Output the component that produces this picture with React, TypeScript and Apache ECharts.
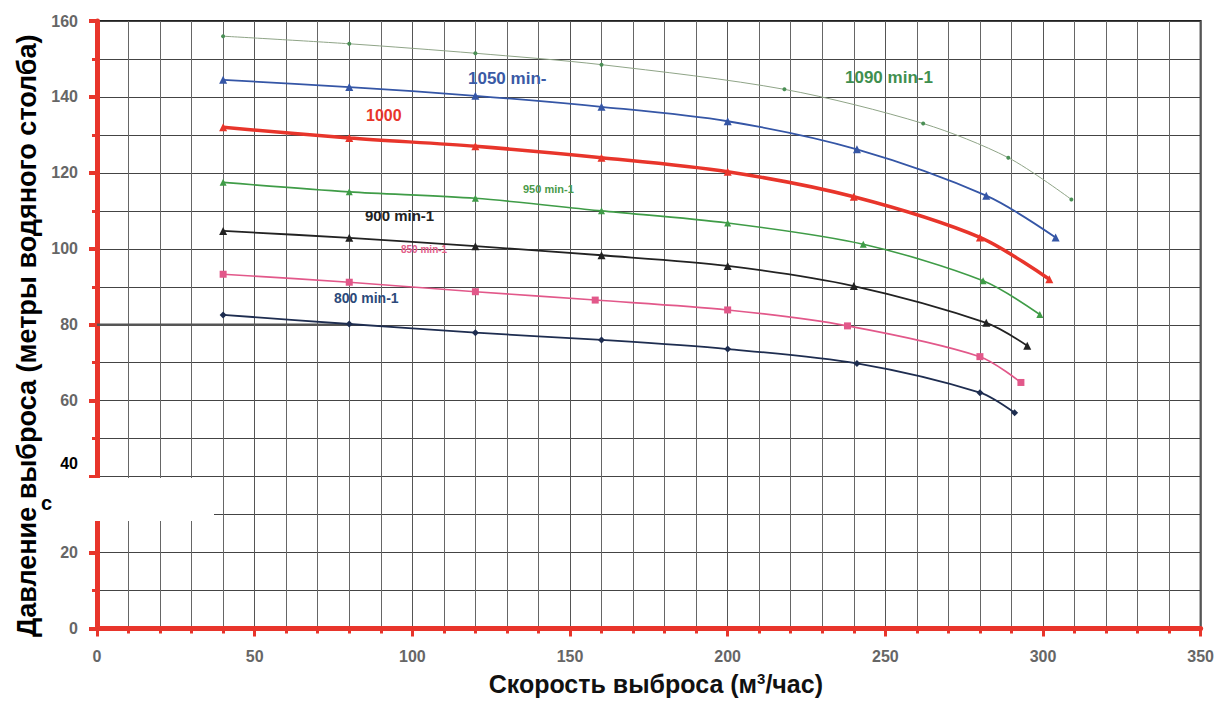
import React, { useEffect, useRef } from "react";
import * as echarts from "echarts";

// Flow (m³/h) vs head (m) curves per pump speed
const curve1090: number[][] = [[40, 156], [80, 154], [120, 151.5], [160, 148.5], [218, 142], [262, 133], [289, 124], [309, 113]];
const curve1050: number[][] = [[40, 144.5], [80, 142.6], [120, 140.3], [160, 137.4], [200, 133.6], [241, 126.2], [282, 114], [304, 103]];
const curve1000: number[][] = [[40, 132], [80, 129.2], [120, 127], [160, 124], [200, 120.3], [240, 113.7], [280, 103], [302, 92]];
const curve950: number[][] = [[40, 117.5], [80, 115], [120, 113.3], [160, 110], [200, 106.8], [243, 101.2], [281, 91.6], [299, 82.7]];
const curve900: number[][] = [[40, 104.7], [80, 102.9], [120, 100.7], [160, 98.3], [200, 95.5], [240, 90.2], [282, 80.5], [295, 74.5]];
const curve850: number[][] = [[40, 93.3], [80, 91.2], [120, 88.7], [158, 86.5], [200, 83.9], [238, 79.7], [280, 71.6], [293, 64.8]];
const curve800: number[][] = [[40, 82.6], [80, 80.2], [120, 77.9], [160, 76], [200, 73.6], [241, 69.8], [280, 62.1], [291, 56.8]];
const refLine80: number[][] = [[0, 80], [80, 80]];

const seriesNames = ["1090 min-1", "1050 min-", "1000", "950 min-1", "900 min-1", "850 min-1", "800 min-1"];

const xMin = 0;
const xMax = 350;
const xStep = 50;
const yMin = 0;
const yMax = 160;
const yStep = 20;

const FONT = "'Liberation Sans', Arial, sans-serif";
const RED = "#e8352b";

export default function App() {
  const ref = useRef<HTMLDivElement>(null);

  useEffect(() => {
    if (!ref.current) return;
    const chart = echarts.init(ref.current, undefined, { renderer: "svg" });

    const mk = (
      name: string,
      data: number[][],
      color: string,
      width: number,
      symbol: string,
      size: number,
      lineColor?: string
    ) => ({
      name,
      type: "line",
      data,
      smooth: 0.3,
      symbol,
      symbolSize: size,
      showSymbol: true,
      lineStyle: { color: lineColor || color, width },
      itemStyle: { color },
      z: 5,
    });

    const labelText = (text: string, x: number, y: number, color: string, size: number) => ({
      type: "text",
      x,
      y,
      z: 50,
      style: {
        text,
        fill: color,
        font: `bold ${size}px ${FONT}`,
        textVerticalAlign: "middle",
      },
    });

    chart.setOption({
      animation: false,
      backgroundColor: "#ffffff",
      textStyle: { fontFamily: FONT },
      grid: {
        left: 97,
        right: 14,
        top: 21,
        bottom: 72,
        show: true,
        borderColor: "#222",
        borderWidth: 2,
        backgroundColor: "transparent",
      },
      xAxis: {
        type: "value",
        min: xMin,
        max: xMax,
        interval: xStep,
        name: "Скорость выброса (м{sup|3}/час)",
        nameLocation: "middle",
        nameGap: 42,
        nameTextStyle: {
          fontSize: 25,
          fontWeight: "bold",
          color: "#111",
          fontFamily: FONT,
          padding: [0, 0, 0, 14],
          rich: {
            sup: { fontSize: 15, fontWeight: "bold", color: "#111", verticalAlign: "top", padding: [0, 0, 11, 0] },
          },
        },
        axisLine: { show: true, onZero: false, lineStyle: { color: RED, width: 5 } },
        axisTick: { show: true, length: 8, lineStyle: { color: RED, width: 3 } },
        minorTick: { show: true, splitNumber: 5, length: 5, lineStyle: { color: RED, width: 3 } },
        axisLabel: { margin: 20, fontSize: 16, fontWeight: "bold", color: "#666", fontFamily: FONT },
        splitLine: { show: true, lineStyle: { color: "#555", width: 1 } },
        minorSplitLine: { show: true, lineStyle: { color: "#666", width: 1 } },
      },
      yAxis: {
        type: "value",
        min: yMin,
        max: yMax,
        interval: yStep,
        name: "Давление выброса (метры водяного столба)",
        nameLocation: "middle",
        nameGap: 56,
        nameRotate: 90,
        nameTextStyle: { fontSize: 27, fontWeight: "bold", color: "#000", fontFamily: FONT, padding: [0, 22, 0, 0] },
        axisLine: { show: true, onZero: false, lineStyle: { color: RED, width: 5 } },
        axisTick: { show: true, length: 8, lineStyle: { color: RED, width: 4 } },
        minorTick: { show: true, splitNumber: 2, length: 5, lineStyle: { color: RED, width: 3 } },
        axisLabel: {
          margin: 19,
          fontSize: 16,
          fontWeight: "bold",
          color: "#666",
          fontFamily: FONT,
          formatter: (v: number) => (v === 40 ? "{b|40}" : String(v)),
          rich: {
            b: { fontSize: 16, fontWeight: "bold", color: "#000", padding: [0, 0, 26, 0] },
          },
        },
        splitLine: { show: true, lineStyle: { color: "#444", width: 1 } },
        minorSplitLine: { show: true, lineStyle: { color: "#444", width: 1 } },
      },
      series: [
        {
          name: "ref80",
          type: "line",
          data: refLine80,
          symbol: "none",
          silent: true,
          lineStyle: { color: "#555", width: 2.5 },
          z: 3,
        },
        mk(seriesNames[0], curve1090, "#4a8f55", 1, "circle", 4, "#8fa487"),
        mk(seriesNames[1], curve1050, "#3556a6", 1.8, "triangle", 8),
        mk(seriesNames[2], curve1000, RED, 3.5, "triangle", 8),
        mk(seriesNames[3], curve950, "#3f9c47", 1.6, "triangle", 7),
        mk(seriesNames[4], curve900, "#222222", 1.8, "triangle", 8),
        mk(seriesNames[5], curve850, "#e2588a", 1.6, "rect", 7),
        mk(seriesNames[6], curve800, "#1e2d50", 1.8, "diamond", 7),
      ],
      graphic: [
        {
          type: "rect",
          z: 40,
          shape: { x: 50, y: 478, width: 164, height: 43 },
          style: { fill: "#ffffff" },
        },
        {
          type: "text",
          x: 41,
          y: 503,
          z: 45,
          style: { text: "с", fill: "#000", font: `bold 20px ${FONT}`, textVerticalAlign: "middle" },
        },
        labelText("1090 min-1", 845, 77, "#3f8f4f", 17),
        labelText("1050 min-", 468, 78, "#3a5aa5", 17),
        labelText("1000", 366, 115, RED, 16),
        labelText("950 min-1", 523, 189, "#4a9a4a", 11),
        labelText("900 min-1", 365, 215, "#222222", 15),
        labelText("850 min-1", 401, 249, "#e2608a", 10),
        labelText("800 min-1", 334, 298, "#2c4a7a", 14),
      ],
    });

    return () => chart.dispose();
  }, []);

  return (
    <div
      ref={ref}
      style={{ position: "fixed", left: 0, top: 0, width: 1217, height: 701, background: "#fff" }}
    />
  );
}
